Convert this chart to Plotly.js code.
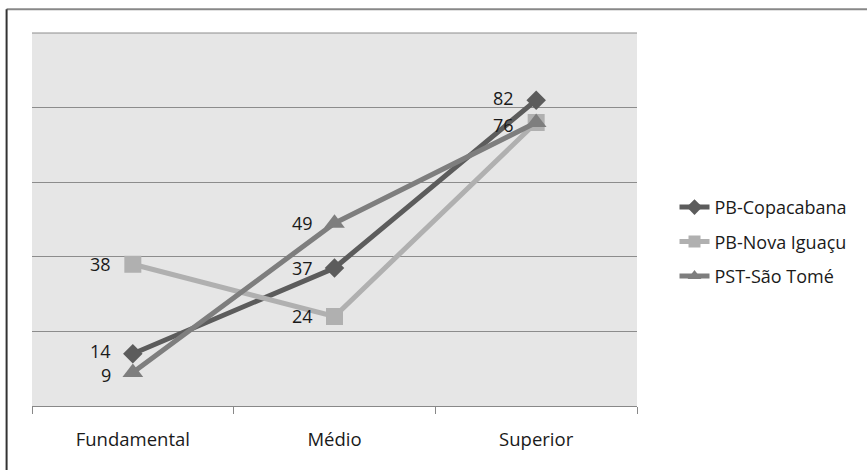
<!DOCTYPE html>
<html>
<head>
<meta charset="utf-8">
<script src="https://cdn.plot.ly/plotly-3.0.1.min.js"></script>
<style>html,body{margin:0;padding:0;background:#fff;}#chart{width:867px;height:470px;}</style>
</head>
<body>
<div id="chart"></div>
<script>
const categories = ["Fundamental", "Médio", "Superior"];
const seriesNames = ["PB-Copacabana", "PB-Nova Iguaçu", "PST-São Tomé"];
const copacabana = [14, 37, 82];
const novaIguacu = [38, 24, 76];
const saoTome = [9, 49, 76];
const labelsShown = [[true, true, true], [true, true, false], [true, true, true]];

const values = [copacabana, novaIguacu, saoTome];
const colors = ["#5c5c5c", "#b0b0b0", "#7e7e7e"];
const symbols = ["diamond", "square", "triangle-up"];
const sizes = [15, 17, 18];
const FONT = "Open Sans, sans-serif";

const traces = values.map((v, i) => ({
  type: "scatter",
  mode: "lines+markers",
  x: categories,
  y: v,
  name: seriesNames[i],
  legendgroup: "g" + i,
  line: {color: colors[i], width: 5},
  marker: {symbol: symbols[i], size: sizes[i], color: colors[i]},
  hoverinfo: "skip"
}));

// small vertical nudges so that close labels do not collide
const nudge = [[3, 0, 2], [0, 0, 0], [-3, 0, -2]];
const annotations = [];
values.forEach((v, i) => {
  v.forEach((val, j) => {
    if (!labelsShown[i][j]) return;
    annotations.push({
      x: categories[j], y: val, xref: "x", yref: "y",
      text: String(val), showarrow: false,
      xanchor: "right", yanchor: "middle", xshift: -21, yshift: nudge[i][j],
      borderpad: 0,
      font: {family: FONT, size: 18, color: "#1a1a1a"}
    });
  });
});

const layout = {
  width: 867, height: 470,
  margin: {l: 32, r: 230, t: 33, b: 64},
  paper_bgcolor: "#ffffff",
  plot_bgcolor: "#e6e6e6",
  showlegend: true,
  legend: {
    x: 1.062, y: 0.44, xanchor: "left", yanchor: "middle",
    font: {family: FONT, size: 18, color: "#1a1a1a"},
    tracegroupgap: 8,
    itemsizing: "constant",
    bgcolor: "rgba(0,0,0,0)"
  },
  xaxis: {
    type: "category",
    tickson: "boundaries",
    ticks: "outside", ticklen: 7, tickcolor: "#888",
    ticklabelstandoff: 17,
    showline: true, linecolor: "#888", linewidth: 1,
    showgrid: false,
    tickfont: {family: FONT, size: 18.5, color: "#1a1a1a"},
    range: [-0.5, 2.5]
  },
  yaxis: {
    range: [0, 100],
    dtick: 20,
    showticklabels: false,
    ticks: "",
    showgrid: true, gridcolor: "#8c8c8c", gridwidth: 1,
    zeroline: false, showline: false,
    fixedrange: true
  },
  annotations: annotations,
  shapes: [
    {type: "line", xref: "paper", yref: "paper", x0: -0.042, x1: 1.5, y0: 1.064, y1: 1.064, line: {color: "#888", width: 2}},
    {type: "line", xref: "paper", yref: "paper", x0: -0.042, x1: -0.042, y0: 1.064, y1: -0.2, line: {color: "#333", width: 2}},
    {type: "line", xref: "paper", yref: "paper", x0: 0, x1: 1, y0: 1, y1: 1, line: {color: "#8c8c8c", width: 1}}
  ]
};

Plotly.newPlot("chart", traces, layout, {displayModeBar: false, staticPlot: true});
</script>
</body>
</html>
